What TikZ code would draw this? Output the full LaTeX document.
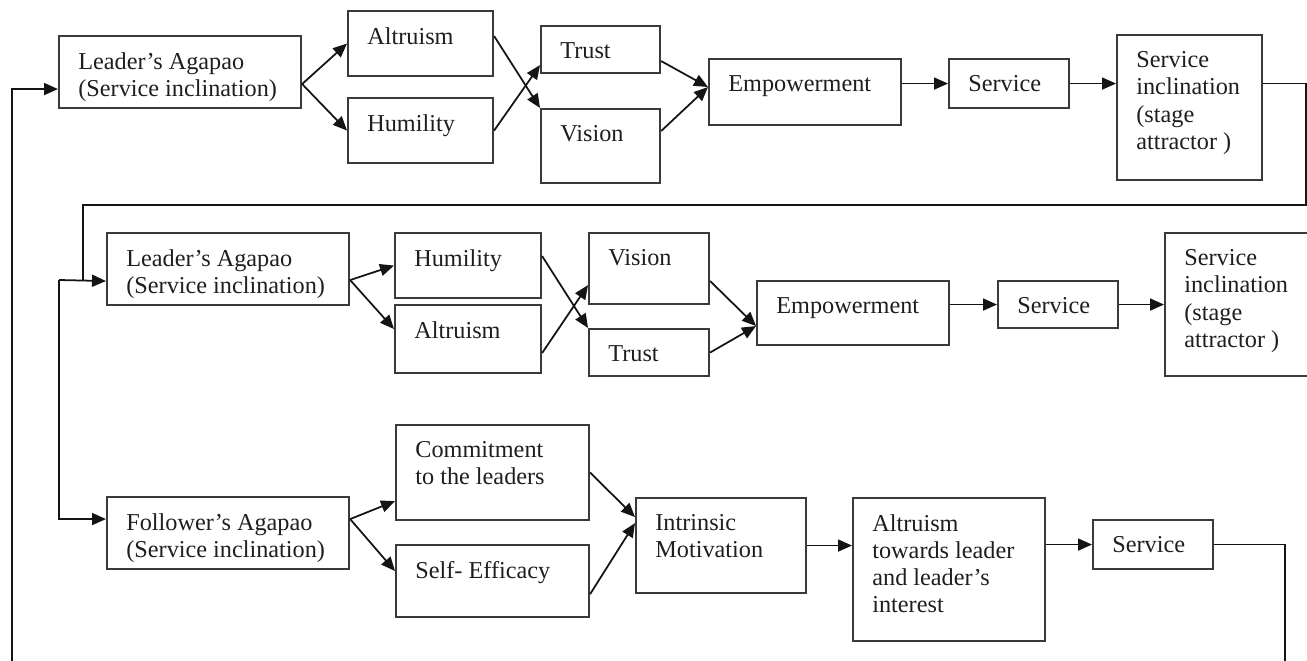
\documentclass[tikz,border=0pt]{standalone}
\usepackage{fontspec}
\setmainfont{Liberation Serif}
\usetikzlibrary{positioning,arrows.meta}
\definecolor{colorbox}  {RGB}{58,58,58}
\definecolor{colorline} {RGB}{20,20,20}
\definecolor{colortext} {RGB}{30,30,30}

\begin{document}
\begin{tikzpicture}[
    x=0.2mm, y=-0.2mm,
    font={\fontsize{13.8pt}{15.4pt}\selectfont},
    box/.style 2 args={draw=colorbox,line width=1.2pt,rectangle,anchor=north west,
        minimum width=#1,minimum height=#2,inner sep=0pt},
    txt/.style={text=colortext,anchor=north west,align=left,inner xsep=4mm,inner ysep=3.5mm},
    conn/.style={draw=colorline,line width=1pt},
    arr/.style={conn,-{Triangle[length=2.8mm,width=2.4mm]}},
]
    \useasboundingbox (0,0) rectangle (1307,661);

    % leader, first stage
    \node[box={48.4mm}{14.4mm}] (la1) at (58,35) {};
    \node[txt] (la1t) at (la1.north west) {Leader’s Agapao\\(Service inclination)};
    \node[box={29mm}{13mm}] (al1) at (347,10) {};
    \node[txt] (al1t) at (al1.north west) {Altruism};
    \node[box={29mm}{13mm}] (hu1) at (347,97) {};
    \node[txt] (hu1t) at (hu1.north west) {Humility};
    \node[box={23.8mm}{9.4mm}] (tr1) at (540,25) {};
    \node[txt] (tr1t) at (tr1.north west) {Trust};
    \node[box={23.8mm}{14.8mm}] (vi1) at (540,108) {};
    \node[txt] (vi1t) at (vi1.north west) {Vision};
    \node[box={38.4mm}{13.2mm}] (em1) at (708,58) {};
    \node[txt] (em1t) at (em1.north west) {Empowerment};
    \node[box={24mm}{9.8mm}] (se1) at (948,58) {};
    \node[txt] (se1t) at (se1.north west) {Service};
    \node[box={29mm}{29mm}] (si1) at (1116,34) {};
    \node[txt] (si1t) at (si1.north west) {Service\\inclination\\(stage\\attractor )};

    \draw[arr] ([yshift=-2.4mm]la1.east) -- (al1.west);
    \draw[arr] ([yshift=-2.4mm]la1.east) -- (hu1.west);
    \draw[arr] ([yshift=1.5mm]al1.east) -- (vi1.north west);
    \draw[arr] (hu1.east) -- ([yshift=1.8mm]tr1.south west);
    \draw[arr] ([yshift=-2.3mm]tr1.east) -- ([yshift=1mm]em1.west);
    \draw[arr] ([yshift=3mm]vi1.east) -- ([yshift=1mm]em1.west);
    \draw[arr] (em1.east |- se1.west) -- (se1.west);
    \draw[arr] (se1.east) -- (se1.east -| si1.west);

    % leader, second stage
    \node[box={48.4mm}{14.4mm}] (la2) at (106,232) {};
    \node[txt] (la2t) at (la2.north west) {Leader’s Agapao\\(Service inclination)};
    \node[box={29.2mm}{13mm}] (hu2) at (394,232) {};
    \node[txt] (hu2t) at (hu2.north west) {Humility};
    \node[box={29.2mm}{13.6mm}] (al2) at (394,304) {};
    \node[txt] (al2t) at (al2.north west) {Altruism};
    \node[box={24mm}{14.2mm}] (vi2) at (588,232) {};
    \node[txt] (vi2t) at (vi2.north west) {Vision};
    \node[box={24mm}{9.4mm}] (tr2) at (588,328) {};
    \node[txt] (tr2t) at (tr2.north west) {Trust};
    \node[box={38.4mm}{12.8mm}] (em2) at (756,280) {};
    \node[txt] (em2t) at (em2.north west) {Empowerment};
    \node[box={24mm}{9.4mm}] (se2) at (997,280) {};
    \node[txt] (se2t) at (se2.north west) {Service};
    \node[box={28.8mm}{28.6mm}] (si2) at (1164,232) {};
    \node[txt] (si2t) at (si2.north west) {Service\\inclination\\(stage\\attractor )};

    \draw[arr] ([yshift=-2.2mm]la2.east) -- (hu2.west);
    \draw[arr] ([yshift=-2.2mm]la2.east) -- ([yshift=2mm]al2.west);
    \draw[arr] ([yshift=1.9mm]hu2.east) -- (tr2.north west);
    \draw[arr] ([yshift=-2.8mm]al2.east) -- ([yshift=4mm]vi2.south west);
    \draw[arr] ([yshift=-2.5mm]vi2.east) -- ([yshift=-2.6mm]em2.west);
    \draw[arr] (tr2.east) -- ([yshift=-2.6mm]em2.west);
    \draw[arr] (em2.east |- se2.west) -- (se2.west);
    \draw[arr] (se2.east) -- (se2.east -| si2.west);

    % follower
    \node[box={48.4mm}{14.4mm}] (fa3) at (106,496) {};
    \node[txt] (fa3t) at (fa3.north west) {Follower’s Agapao\\(Service inclination)};
    \node[box={38.6mm}{19mm}] (co3) at (395,424) {};
    \node[txt] (co3t) at (co3.north west) {Commitment\\to the leaders};
    \node[box={38.6mm}{14.4mm}] (sf3) at (395,544) {};
    \node[txt] (sf3t) at (sf3.north west) {Self- Efficacy};
    \node[box={34mm}{19mm}] (im3) at (635,497) {};
    \node[txt] (im3t) at (im3.north west) {Intrinsic\\Motivation};
    \node[box={38.4mm}{28.6mm}] (at3) at (852,497) {};
    \node[txt] (at3t) at (at3.north west) {Altruism\\towards leader\\and leader’s\\interest};
    \node[box={24mm}{9.8mm}] (se3) at (1092,519) {};
    \node[txt] (se3t) at (se3.north west) {Service};

    \draw[arr] ([yshift=2.8mm]fa3.east) -- ([yshift=4mm]co3.south west);
    \draw[arr] ([yshift=2.8mm]fa3.east) -- ([yshift=2mm]sf3.west);
    \draw[arr] (co3.east) -- ([yshift=5.7mm]im3.west);
    \draw[arr] ([yshift=4.8mm]sf3.south east) -- ([yshift=4.5mm]im3.west);
    \draw[arr] (im3.east) -- (im3.east -| at3.west);
    \draw[arr] (at3.east |- se3.west) -- (se3.west);

    % feedback lines
    \coordinate (lbot) at (12,661);
    \coordinate (rbot) at (1285,661);
    \coordinate (rtop) at (1306,205);
    \coordinate (ltop) at (83,205);
    \coordinate (lmid) at (59,280);
    \draw[arr] (lbot) |- ([yshift=-3.4mm]la1.west);
    \draw[conn] (si1.east |- se1.east) -| (rtop) -- (ltop) -- (ltop |- lmid);
    \draw[arr] (lmid) -- ([yshift=-2.4mm]la2.west);
    \draw[arr] (lmid) |- ([yshift=2.8mm]fa3.west);
    \draw[conn] (se3.east) -| (rbot);

\end{tikzpicture}
\end{document}
